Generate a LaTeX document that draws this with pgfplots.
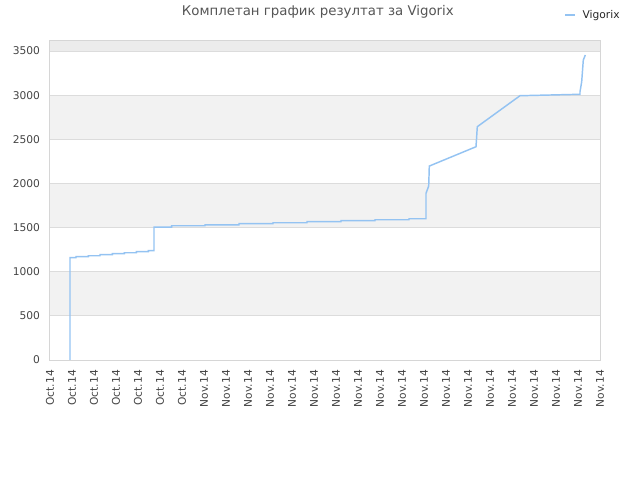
\documentclass[border=0pt]{standalone}
\usepackage{pgfplots}
\pgfplotsset{compat=1.18}
\usepackage{fontspec}
\setmainfont{DejaVu Sans}
\definecolor{lineblue}{HTML}{94C3F2}
\definecolor{band}{HTML}{F2F2F2}
\definecolor{topband}{HTML}{ECECEC}
\definecolor{gridc}{HTML}{DCDCDC}
\definecolor{framec}{HTML}{D6D6D6}
\definecolor{titlec}{HTML}{555555}
\definecolor{labelc}{HTML}{444444}
\begin{document}
\begin{tikzpicture}
\useasboundingbox (-37.5pt,-90pt) rectangle (442.5pt,270pt);
\begin{axis}[
    at={(0pt,0pt)}, anchor=south west,
    scale only axis,
    width=412.5pt, height=240pt,
    xmin=0, xmax=25,
    ymin=0, ymax=3625,
    xtick={0,1,...,25},
    xticklabels={Oct.14,Oct.14,Oct.14,Oct.14,Oct.14,Oct.14,Oct.14,
        Nov.14,Nov.14,Nov.14,Nov.14,Nov.14,Nov.14,Nov.14,Nov.14,Nov.14,
        Nov.14,Nov.14,Nov.14,Nov.14,Nov.14,Nov.14,Nov.14,Nov.14,Nov.14,Nov.14},
    ytick={0,500,1000,1500,2000,2500,3000,3500},
    scaled y ticks=false,
    /pgf/number format/1000 sep={},
    /pgf/number format/assume math mode=true,
    major tick length=0pt,
    axis line style={framec, line width=0.75pt},
    axis on top,
    ticklabel style={font=\fontsize{8}{9}\selectfont, text=labelc},
    x tick label style={rotate=90, anchor=east},
    xticklabel shift=4pt,
    yticklabel shift=4pt,
    title={Комплетан график резултат за Vigorix},
    every axis title/.style={at={(0.487,1.0875)}, anchor=center,
        font=\fontsize{10}{12}\selectfont, text=titlec},
    legend style={at={(0.935,1.078)}, anchor=west, draw=none, fill=none,
        inner sep=0pt, font=\fontsize{8}{9}\selectfont, text=black!85},
    legend image code/.code={\draw[#1] (0pt,0pt) -- (7.5pt,0pt); \path (10.5pt,0pt);},
]
% background bands and grid
\fill[band] (axis cs:0,500) rectangle (axis cs:25,1000);
\fill[band] (axis cs:0,1500) rectangle (axis cs:25,2000);
\fill[band] (axis cs:0,2500) rectangle (axis cs:25,3000);
\fill[topband] (axis cs:0,3500) rectangle (axis cs:25,3625);
\draw[gridc, line width=0.75pt] (axis cs:0,500) -- (axis cs:25,500);
\draw[gridc, line width=0.75pt] (axis cs:0,1000) -- (axis cs:25,1000);
\draw[gridc, line width=0.75pt] (axis cs:0,1500) -- (axis cs:25,1500);
\draw[gridc, line width=0.75pt] (axis cs:0,2000) -- (axis cs:25,2000);
\draw[gridc, line width=0.75pt] (axis cs:0,2500) -- (axis cs:25,2500);
\draw[gridc, line width=0.75pt] (axis cs:0,3000) -- (axis cs:25,3000);
\draw[gridc, line width=0.75pt] (axis cs:0,3500) -- (axis cs:25,3500);

\addplot[lineblue, line width=1.1pt] coordinates {
    (0.909,0) (0.909,1159)
    (1.182,1159) (1.182,1170)
    (1.741,1170) (1.741,1181)
    (2.273,1181) (2.273,1193)
    (2.832,1193) (2.832,1204)
    (3.377,1204) (3.377,1215)
    (3.923,1215) (3.923,1227)
    (4.468,1227) (4.468,1238)
    (4.727,1238) (4.727,1506)
    (5.532,1506) (5.532,1521)
    (7.045,1521) (7.045,1532)
    (8.591,1532) (8.591,1544)
    (10.136,1544) (10.136,1555)
    (11.682,1555) (11.682,1567)
    (13.227,1567) (13.227,1578)
    (14.773,1578) (14.773,1589)
    (16.318,1589) (16.318,1600)
    (17.091,1600) (17.091,1888)
    (17.214,1971)
    (17.241,2197)
    (19.364,2416)
    (19.423,2643)
    (21.364,2994)
    (22.727,3002)
    (24.091,3010)
    (24.091,3039)
    (24.168,3152)
    (24.241,3398)
    (24.332,3455)
};
\addlegendentry{Vigorix}
\end{axis}
\end{tikzpicture}
\end{document}
